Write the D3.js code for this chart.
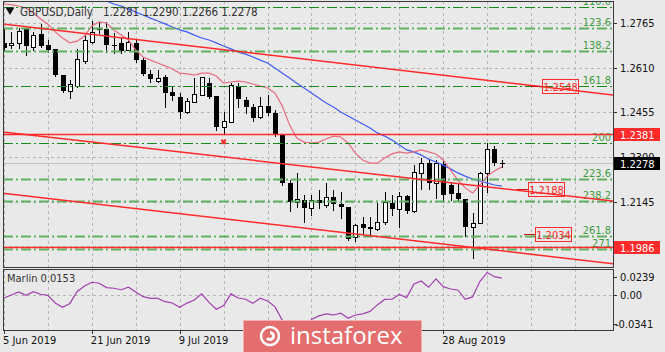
<!DOCTYPE html>
<html>
<head>
<meta charset="utf-8">
<script src="https://cdn.jsdelivr.net/npm/d3@7"></script>
<style>
  body { margin: 0; background: #e9e9e9; }
  text { font-family: 'DejaVu Sans Condensed', 'DejaVu Sans', sans-serif; }
</style>
</head>
<body>
<div id="chart"></div>
<script>
// Chart data
const symbolTitle = 'GBPUSD,Daily'
const lastQuote = ['1.2281', '1.2290', '1.2266', '1.2278']

// Date labels that are visible (the others sit under the watermark)
const tickIndex = [0, 12, 24, 60]
const tickDates = ['5 Jun 2019', '21 Jun 2019', '9 Jul 2019', '28 Aug 2019']

const open = [1.2697, 1.2688, 1.2697, 1.2745, 1.2683, 1.2728, 1.2690, 1.2676, 1.2585, 1.2530,
  1.2547, 1.2634, 1.2700, 1.2745, 1.2745, 1.2690, 1.2697, 1.2672, 1.2697, 1.2637,
  1.2589, 1.2564, 1.2578, 1.2526, 1.2509, 1.2457, 1.2491, 1.2516, 1.2558, 1.2512,
  1.2405, 1.2422, 1.2547, 1.2498, 1.2474, 1.2439, 1.2478, 1.2453, 1.2377, 1.2210,
  1.2144, 1.2151, 1.2123, 1.2151, 1.2133, 1.2161, 1.2137, 1.2126, 1.2022, 1.2067,
  1.2057, 1.2050, 1.2074, 1.2140, 1.2120, 1.2165, 1.2113, 1.2245, 1.2279, 1.2210,
  1.2276, 1.2203, 1.2175, 1.2154, 1.2057, 1.2071, 1.2245, 1.2328, 1.2281]
const high = [1.2749, 1.2735, 1.2749, 1.2749, 1.2735, 1.2763, 1.2707, 1.2676, 1.2585, 1.2568,
  1.2676, 1.2731, 1.2773, 1.2770, 1.2770, 1.2731, 1.2714, 1.2735, 1.2710, 1.2644,
  1.2603, 1.2603, 1.2585, 1.2544, 1.2523, 1.2505, 1.2575, 1.2578, 1.2575, 1.2512,
  1.2457, 1.2558, 1.2558, 1.2509, 1.2485, 1.2509, 1.2516, 1.2464, 1.2380, 1.2220,
  1.2245, 1.2168, 1.2168, 1.2186, 1.2210, 1.2186, 1.2179, 1.2126, 1.2067, 1.2092,
  1.2092, 1.2140, 1.2179, 1.2168, 1.2179, 1.2168, 1.2272, 1.2297, 1.2290, 1.2290,
  1.2290, 1.2213, 1.2210, 1.2154, 1.2106, 1.2248, 1.2349, 1.2339, 1.2290]
const low = [1.2672, 1.2679, 1.2679, 1.2655, 1.2672, 1.2683, 1.2665, 1.2582, 1.2526, 1.2505,
  1.2544, 1.2627, 1.2697, 1.2731, 1.2665, 1.2662, 1.2662, 1.2672, 1.2630, 1.2585,
  1.2561, 1.2561, 1.2474, 1.2498, 1.2436, 1.2453, 1.2491, 1.2516, 1.2505, 1.2394,
  1.2384, 1.2422, 1.2474, 1.2453, 1.2425, 1.2436, 1.2446, 1.2373, 1.2203, 1.2113,
  1.2126, 1.2074, 1.2099, 1.2123, 1.2126, 1.2116, 1.2088, 1.2012, 1.2008, 1.2036,
  1.2033, 1.2047, 1.2067, 1.2099, 1.2057, 1.2106, 1.2109, 1.2189, 1.2189, 1.2158,
  1.2147, 1.2151, 1.2151, 1.2026, 1.1949, 1.2071, 1.2179, 1.2272, 1.2266]
const close = [1.2679, 1.2695, 1.2738, 1.2686, 1.2724, 1.2686, 1.2672, 1.2585, 1.2530, 1.2554,
  1.2641, 1.2707, 1.2735, 1.2743, 1.2690, 1.2686, 1.2669, 1.2700, 1.2637, 1.2589,
  1.2571, 1.2575, 1.2523, 1.2512, 1.2457, 1.2495, 1.2519, 1.2578, 1.2509, 1.2405,
  1.2425, 1.2551, 1.2502, 1.2474, 1.2436, 1.2478, 1.2453, 1.2377, 1.2210, 1.2144,
  1.2154, 1.2123, 1.2151, 1.2140, 1.2161, 1.2137, 1.2126, 1.2015, 1.2064, 1.2053,
  1.2050, 1.2074, 1.2144, 1.2120, 1.2165, 1.2113, 1.2248, 1.2279, 1.2210, 1.2279,
  1.2168, 1.2172, 1.2154, 1.2057, 1.2071, 1.2245, 1.2328, 1.2279, 1.2278]

// Fast (pink) and slow (blue) moving averages
const maFast = [1.2832, 1.2830, 1.2825, 1.2818, 1.2801, 1.2780, 1.2762, 1.2735, 1.2714, 1.2697,
  1.2703, 1.2721, 1.2756, 1.2770, 1.2766, 1.2742, 1.2724, 1.2707, 1.2672, 1.2648,
  1.2637, 1.2627, 1.2617, 1.2606, 1.2592, 1.2589, 1.2585, 1.2592, 1.2592, 1.2582,
  1.2557, 1.2561, 1.2564, 1.2561, 1.2554, 1.2547, 1.2540, 1.2523, 1.2478, 1.2412,
  1.2366, 1.2352, 1.2349, 1.2352, 1.2363, 1.2373, 1.2370, 1.2349, 1.2314, 1.2290,
  1.2279, 1.2279, 1.2297, 1.2311, 1.2318, 1.2314, 1.2318, 1.2325, 1.2318, 1.2311,
  1.2290, 1.2255, 1.2220, 1.2193, 1.2175, 1.2203, 1.2234, 1.2252, 1.2266]
const maSlow = [null, null, null, null, null, null, null, null, null, null, null, null,
  1.2863, 1.2853, 1.2843, 1.2832, 1.2825, 1.2815, 1.2804, 1.2794, 1.2783, 1.2773,
  1.2763, 1.2752, 1.2742, 1.2735, 1.2724, 1.2714, 1.2707, 1.2697, 1.2686, 1.2676,
  1.2665, 1.2658, 1.2648, 1.2637, 1.2627, 1.2610, 1.2592, 1.2575, 1.2557, 1.2540,
  1.2523, 1.2505, 1.2488, 1.2474, 1.2457, 1.2443, 1.2429, 1.2415, 1.2401, 1.2384,
  1.2373, 1.2359, 1.2342, 1.2325, 1.2318, 1.2307, 1.2293, 1.2283, 1.2272, 1.2259,
  1.2245, 1.2234, 1.2224, 1.2217, 1.2210, 1.2203, 1.2199]

const marlin = [-0.0032, -0.0004, 0.0024, -0.0008, 0.0027, 0.0003, -0.0008, -0.0079, -0.0119, -0.0083,
  0.0029, 0.0080, 0.0115, 0.0106, 0.0065, 0.0059, 0.0045, 0.0068, 0.0024, -0.0020,
  -0.0035, -0.0036, -0.0067, -0.0079, -0.0119, -0.0080, -0.0051, 0.0006, -0.0074, -0.0138,
  -0.0102, 0.0006, -0.0032, -0.0044, -0.0081, -0.0035, -0.0060, -0.0113, -0.0238, -0.0290,
  -0.0341, -0.0310, -0.0233, -0.0200, -0.0181, -0.0191, -0.0175, -0.0222, -0.0191, -0.0181,
  -0.0158, -0.0097, -0.0046, -0.0044, 0.0001, -0.0029, 0.0099, 0.0127, 0.0068, 0.0146,
  0.0074, 0.0052, 0.0043, -0.0044, -0.0022, 0.0121, 0.0207, 0.0167, 0.0153]
const marlinLabel = 'Marlin 0.0153'
const marlinTicks = [0.0239, 0, -0.0341]
const marlinTickLabels = ['0.0239', '0.00', '-0.0341']

const priceTicks = [1.2765, 1.2610, 1.2455, 1.2300, 1.2145, 1.1990]

const fibNames = ['110.0', '123.6', '138.2', '161.8', '200', '223.6', '238.2', '261.8', '271']
const fibPrices = [1.2820, 1.2747, 1.2670, 1.2547, 1.2348, 1.2224, 1.2147, 1.2026, 1.1980]
const fibDark = [true, false, false, true, true, false, false, false, false]

const levelPrices = [1.2381, 1.1986]

// Trend channel anchors: [bar index, price]
const trendUpper = [[0, 1.2762], [68, 1.2561]]
const trendMiddle = [[0, 1.2387], [68, 1.2191]]
const trendLower = [[0, 1.2174], [68, 1.1974]]

const lineLabels = ['1.2548', '1.2188', '1.2034']
const lineLabelIndex = [76, 74, 75]

const crossMark = [30, 1.2353]

makeChart({ selector: '#chart' })

function makeChart({
  selector = 'body',
  width = 665,
  height = 352,
  plot = {left: 3, right: 613, top: 1, bottom: 267},
  ind = {top: 269, bottom: 330},
  style = {}
} = {}) {

  style.bg = style.bg ? style.bg : '#e9e9e9'
  style.grid = style.grid ? style.grid : '#b5b5b5'
  style.text = style.text ? style.text : '#333'
  style.fibDark = style.fibDark ? style.fibDark : '#168a16'
  style.fibLight = style.fibLight ? style.fibLight : '#62b062'
  style.red = style.red ? style.red : '#ff2a2a'

  const svg = d3.select(selector)
    .append('svg')
    .attr('width', width)
    .attr('height', height)
    .style('display', 'block')

  svg.append('rect')
    .attr('width', width)
    .attr('height', height)
    .attr('fill', style.bg)

  const defs = svg.append('defs')
  defs.append('clipPath').attr('id', 'clipMain')
    .append('rect')
    .attr('x', plot.left).attr('y', plot.top)
    .attr('width', plot.right - plot.left).attr('height', plot.bottom - plot.top)
  defs.append('clipPath').attr('id', 'clipInd')
    .append('rect')
    .attr('x', plot.left).attr('y', ind.top)
    .attr('width', plot.right - plot.left).attr('height', ind.bottom - ind.top)

  // Scales
  const xScale = d3.scaleLinear().domain([0, 68]).range([4, 501.8])
  const yScale = d3.scaleLinear().domain([1.1925, 1.2839]).range([265, 2])
  const yInd = d3.scaleLinear().domain([-0.0341, 0.0239]).range([331, 269])
  const leftIdx = xScale.invert(plot.left)
  const rightIdx = xScale.invert(plot.right)

  const gMain = svg.append('g').attr('clip-path', 'url(#clipMain)')
  const gInd = svg.append('g').attr('clip-path', 'url(#clipInd)')

  // Vertical grid every 6 bars
  const vGrid = d3.range(0, rightIdx, 6)
  gMain.selectAll('.vgrid')
    .data(vGrid)
    .join('line')
    .attr('class', 'vgrid')
    .attr('x1', d => Math.round(xScale(d)) + 0.5)
    .attr('x2', d => Math.round(xScale(d)) + 0.5)
    .attr('y1', plot.top).attr('y2', plot.bottom)
    .style('stroke', style.grid)
    .style('stroke-dasharray', '3,3')
  gInd.selectAll('.vgrid')
    .data(vGrid)
    .join('line')
    .attr('class', 'vgrid')
    .attr('x1', d => Math.round(xScale(d)) + 0.5)
    .attr('x2', d => Math.round(xScale(d)) + 0.5)
    .attr('y1', ind.top).attr('y2', ind.bottom)
    .style('stroke', style.grid)
    .style('stroke-dasharray', '3,3')

  // Horizontal grid
  gMain.selectAll('.hgrid')
    .data(priceTicks)
    .join('line')
    .attr('class', 'hgrid')
    .attr('x1', plot.left).attr('x2', plot.right)
    .attr('y1', d => Math.round(yScale(d)) + 0.5)
    .attr('y2', d => Math.round(yScale(d)) + 0.5)
    .style('stroke', style.grid)
    .style('stroke-dasharray', '3,3')
  gInd.append('line')
    .attr('x1', plot.left).attr('x2', plot.right)
    .attr('y1', Math.round(yInd(0)) + 0.5)
    .attr('y2', Math.round(yInd(0)) + 0.5)
    .style('stroke', style.grid)
    .style('stroke-dasharray', '3,3')

  // Bid line
  gMain.append('line')
    .attr('x1', plot.left).attr('x2', plot.right)
    .attr('y1', Math.round(yScale(close[close.length - 1])) + 0.5)
    .attr('y2', Math.round(yScale(close[close.length - 1])) + 0.5)
    .style('stroke', '#c2c2c2')

  // Candles
  const bars = open.map((o, i) => ({i, o, h: high[i], l: low[i], c: close[i]}))
  const cx = d => Math.round(xScale(d.i))

  gMain.selectAll('.wick')
    .data(bars)
    .join('line')
    .attr('class', 'wick')
    .attr('x1', d => cx(d) + 0.5).attr('x2', d => cx(d) + 0.5)
    .attr('y1', d => Math.round(yScale(d.h)))
    .attr('y2', d => Math.round(yScale(d.l)) + 1)
    .style('stroke', '#000')

  gMain.selectAll('.body')
    .data(bars)
    .join('rect')
    .attr('class', 'body')
    .attr('x', d => d.c > d.o ? cx(d) - 1.5 : cx(d) - 2)
    .attr('width', d => d.c > d.o ? 4 : 5)
    .attr('y', d => {
      const top = Math.round(yScale(Math.max(d.o, d.c)))
      return d.c > d.o ? top + 0.5 : top
    })
    .attr('height', d => {
      const h = Math.round(yScale(Math.min(d.o, d.c))) - Math.round(yScale(Math.max(d.o, d.c)))
      return Math.max(h, 1)
    })
    .style('fill', d => d.c > d.o ? '#fff' : '#000')
    .style('stroke', d => d.c > d.o ? '#000' : 'none')

  // Moving averages
  const linePath = d3.line()
    .defined(d => d.v !== null)
    .x(d => xScale(d.i))
    .y(d => yScale(d.v))

  gMain.append('path')
    .attr('d', linePath(maSlow.map((v, i) => ({i, v}))))
    .style('fill', 'none')
    .style('stroke', '#3d5cf5')
    .style('stroke-width', 1.2)
  gMain.append('path')
    .attr('d', linePath(maFast.map((v, i) => ({i, v}))))
    .style('fill', 'none')
    .style('stroke', '#ea6a80')
    .style('stroke-width', 1.2)

  // Fibonacci levels
  const fibs = fibNames.map((n, k) => ({n, p: fibPrices[k], dark: fibDark[k]}))
  gMain.selectAll('.fib')
    .data(fibs)
    .join('line')
    .attr('class', 'fib')
    .attr('x1', plot.left).attr('x2', plot.right)
    .attr('y1', d => Math.round(yScale(d.p)) + 0.5)
    .attr('y2', d => Math.round(yScale(d.p)) + 0.5)
    .style('stroke', d => d.dark ? style.fibDark : style.fibLight)
    .style('stroke-width', d => d.dark ? 1 : 2)
    .style('stroke-dasharray', '10,3,2,3')
  gMain.selectAll('.fibLabel')
    .data(fibs)
    .join('text')
    .attr('class', 'fibLabel')
    .attr('x', plot.right - 2)
    .attr('y', d => yScale(d.p) - 2)
    .attr('text-anchor', 'end')
    .style('font-size', '11px')
    .style('fill', '#3e9c3e')
    .text(d => d.n)

  // Horizontal price levels
  gMain.selectAll('.level')
    .data(levelPrices)
    .join('line')
    .attr('class', 'level')
    .attr('x1', plot.left).attr('x2', plot.right)
    .attr('y1', d => Math.round(yScale(d)) + 0.5)
    .attr('y2', d => Math.round(yScale(d)) + 0.5)
    .style('stroke', style.red)
    .style('stroke-width', 1.3)

  // Trend channel, extended across the plot
  const extend = a => {
    const slope = (a[1][1] - a[0][1]) / (a[1][0] - a[0][0])
    return [leftIdx, rightIdx].map(i => ({i, v: a[0][1] + slope * (i - a[0][0])}))
  }
  gMain.selectAll('.trend')
    .data([trendUpper, trendMiddle, trendLower])
    .join('path')
    .attr('class', 'trend')
    .attr('d', d => linePath(extend(d)))
    .style('fill', 'none')
    .style('stroke', style.red)
    .style('stroke-width', 1.5)

  // Trend price labels
  const tl = lineLabels.map((t, k) => ({t, i: lineLabelIndex[k], p: +t}))
  gMain.selectAll('.tlMark')
    .data(tl)
    .join('line')
    .attr('class', 'tlMark')
    .attr('x1', d => xScale(d.i) - 29).attr('x2', d => xScale(d.i) - 18)
    .attr('y1', d => Math.round(yScale(d.p)) + 0.5)
    .attr('y2', d => Math.round(yScale(d.p)) + 0.5)
    .style('stroke', '#d01010')
  gMain.selectAll('.tlBox')
    .data(tl)
    .join('rect')
    .attr('class', 'tlBox')
    .attr('x', d => Math.round(xScale(d.i)) - 17.5)
    .attr('y', d => Math.round(yScale(d.p)) - 6.5)
    .attr('width', 36).attr('height', 14)
    .style('fill', 'none')
    .style('stroke', style.red)
  gMain.selectAll('.tlText')
    .data(tl)
    .join('text')
    .attr('class', 'tlText')
    .attr('x', d => Math.round(xScale(d.i)) + 0.5)
    .attr('y', d => Math.round(yScale(d.p)) + 4.5)
    .attr('text-anchor', 'middle')
    .style('font-size', '11px')
    .style('fill', style.red)
    .text(d => d.t)

  // Cross marker
  gMain.append('path')
    .attr('d', d3.symbol(d3.symbolCross, 22)())
    .attr('transform', `translate(${xScale(crossMark[0])},${yScale(crossMark[1])}) rotate(45)`)
    .style('fill', '#ff3030')

  // Marlin line
  gInd.append('path')
    .attr('d', d3.line().x((d, i) => xScale(i)).y(d => yInd(d))(marlin))
    .style('fill', 'none')
    .style('stroke', '#a23fb0')
    .style('stroke-width', 1.2)

  // Panel borders
  svg.append('rect')
    .attr('x', plot.left + 0.5).attr('y', plot.top + 0.5)
    .attr('width', plot.right - plot.left).attr('height', plot.bottom - plot.top)
    .style('fill', 'none').style('stroke', '#3a3a3a')
  svg.append('rect')
    .attr('x', plot.left + 0.5).attr('y', ind.top + 0.5)
    .attr('width', plot.right - plot.left).attr('height', ind.bottom - ind.top)
    .style('fill', 'none').style('stroke', '#3a3a3a')

  // Header
  svg.append('path')
    .attr('d', d3.symbol(d3.symbolTriangle, 34)())
    .attr('transform', 'translate(10,10) rotate(180)')
    .style('fill', '#111')
  const header = svg.append('text')
    .attr('x', 20).attr('y', 16)
    .style('font-size', '11.5px')
    .style('fill', style.text)
  header.append('tspan').text(symbolTitle)
  header.append('tspan').attr('dx', 10).text(lastQuote.join(' '))

  svg.append('text')
    .attr('x', 7).attr('y', 282)
    .style('font-size', '11px')
    .style('fill', style.text)
    .text(marlinLabel)

  // Right price axis
  const axisG = svg.append('g')
  axisG.selectAll('.ptick')
    .data(priceTicks)
    .join('line')
    .attr('class', 'ptick')
    .attr('x1', plot.right).attr('x2', plot.right + 4)
    .attr('y1', d => Math.round(yScale(d)) + 0.5)
    .attr('y2', d => Math.round(yScale(d)) + 0.5)
    .style('stroke', '#333')
  axisG.selectAll('.plabel')
    .data(priceTicks)
    .join('text')
    .attr('class', 'plabel')
    .attr('x', plot.right + 7)
    .attr('y', d => yScale(d) + 4)
    .style('font-size', '11px')
    .style('fill', '#111')
    .text(d => d.toFixed(4))

  // Boxed labels on the axis
  const boxes = [
    {p: levelPrices[0], t: levelPrices[0].toFixed(4), fill: style.red},
    {p: levelPrices[1], t: levelPrices[1].toFixed(4), fill: style.red},
    {p: close[close.length - 1], t: lastQuote[3], fill: '#000'}
  ]
  axisG.selectAll('.pbox')
    .data(boxes)
    .join('rect')
    .attr('class', 'pbox')
    .attr('x', plot.right + 1)
    .attr('y', d => Math.round(yScale(d.p)) - 6)
    .attr('width', 46).attr('height', 13)
    .style('fill', d => d.fill)
  axisG.selectAll('.pboxText')
    .data(boxes)
    .join('text')
    .attr('class', 'pboxText')
    .attr('x', plot.right + 7)
    .attr('y', d => Math.round(yScale(d.p)) + 4.5)
    .style('font-size', '11px')
    .style('fill', '#fff')
    .text(d => d.t)

  // Indicator axis
  axisG.selectAll('.itick')
    .data(marlinTicks)
    .join('line')
    .attr('class', 'itick')
    .attr('x1', plot.right).attr('x2', plot.right + 4)
    .attr('y1', (d, k) => Math.round(yInd(d)) + [8, 0, -7][k] + 0.5)
    .attr('y2', (d, k) => Math.round(yInd(d)) + [8, 0, -7][k] + 0.5)
    .style('stroke', '#333')
  axisG.selectAll('.ilabel')
    .data(marlinTicks)
    .join('text')
    .attr('class', 'ilabel')
    .attr('x', d => plot.right + (d < 0 ? 2 : 7))
    .attr('y', (d, k) => yInd(d) + [8, 0, -7][k] + 4)
    .style('font-size', '11px')
    .style('fill', '#111')
    .text((d, k) => marlinTickLabels[k])

  // Date axis
  axisG.selectAll('.dtick')
    .data(tickIndex)
    .join('line')
    .attr('class', 'dtick')
    .attr('x1', d => Math.round(xScale(d)) + 0.5)
    .attr('x2', d => Math.round(xScale(d)) + 0.5)
    .attr('y1', ind.bottom).attr('y2', ind.bottom + 4)
    .style('stroke', '#333')
  axisG.selectAll('.dlabel')
    .data(tickIndex)
    .join('text')
    .attr('class', 'dlabel')
    .attr('x', d => xScale(d) - 1)
    .attr('y', 344)
    .style('font-size', '11px')
    .style('fill', '#111')
    .text((d, k) => tickDates[k])

  // Watermark logo
  const logo = svg.append('g')
  logo.append('rect')
    .attr('x', 243.5).attr('y', 320.5)
    .attr('width', 178).attr('height', 34)
    .style('fill', '#e46d6d')
    .style('stroke', '#f3b0b0')
  logo.append('circle')
    .attr('cx', 270).attr('cy', 336).attr('r', 9)
    .style('fill', 'none').style('stroke', '#fff').style('stroke-width', 2.5)
  logo.append('path')
    .attr('d', d3.arc()({innerRadius: 2, outerRadius: 5, startAngle: 0, endAngle: Math.PI * 1.3}))
    .attr('transform', 'translate(270,336)')
    .style('fill', '#fff')
  logo.append('text')
    .attr('x', 290).attr('y', 344)
    .style('font-family', "'Open Sans', 'DejaVu Sans', sans-serif")
    .style('font-size', '24px')
    .style('fill', '#fff')
    .text('instaforex')
}
</script>
</body>
</html>
